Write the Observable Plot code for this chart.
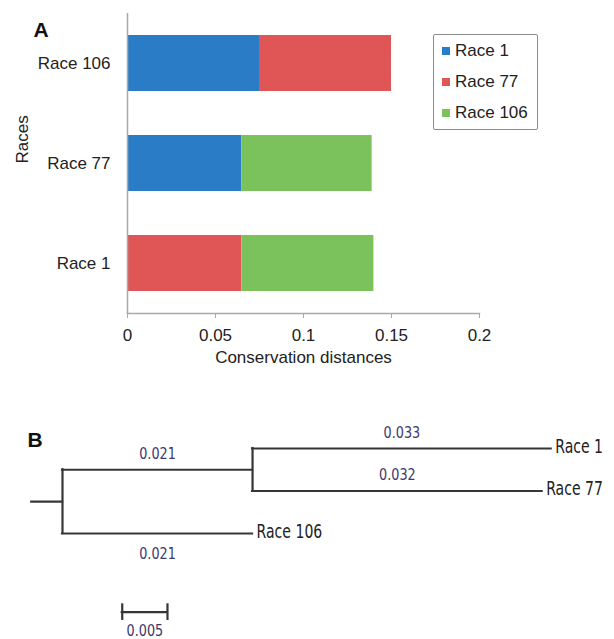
<!DOCTYPE html>
<html><head><meta charset="utf-8">
<script src="https://cdn.jsdelivr.net/npm/d3@7"></script>
<script src="https://cdn.jsdelivr.net/npm/@observablehq/plot@0.6"></script>
<style>
html,body{margin:0;padding:0;background:#fff;}
#fig{position:relative;width:614px;height:639px;overflow:hidden;background:#fff;}
#panelA{position:absolute;left:0;top:0;}
#panelB{position:absolute;left:0;top:380px;}
#legend{position:absolute;left:433px;top:34px;width:105px;height:96px;box-sizing:border-box;border:1.5px solid #8c8c8c;border-radius:2px;background:#fff;}
#legend .lg-swatches{margin:0 !important;padding:0 0 0 8px !important;display:flex !important;flex-direction:column !important;align-items:flex-start !important;min-height:0 !important;font:17px "Liberation Sans", Arial, sans-serif !important;color:#222 !important;}
#legend .lg-swatch{display:flex !important;align-items:center !important;height:31px !important;margin:0 !important;padding:0 !important;}
#legend .lg-swatch svg{margin-right:5px !important;}
</style>
</head><body>
<div id="fig"><div id="panelA"></div><div id="legend"></div><div id="panelB"></div></div>
<script>
// ---------- Panel A data ----------
const races = ["Race 1", "Race 77", "Race 106"];
const raceColors = ["#2b7cc6", "#e05555", "#7cc25c"];
const rowOrder = ["Race 106", "Race 77", "Race 1"];
const barRows = ["Race 106", "Race 106", "Race 77", "Race 77", "Race 1", "Race 1"];
const barSegments = ["Race 1", "Race 77", "Race 1", "Race 106", "Race 77", "Race 106"];
const barDistances = [0.075, 0.075, 0.065, 0.074, 0.065, 0.075];
const xTicks = [0, 0.05, 0.1, 0.15, 0.2];
const xTickLabels = ["0", "0.05", "0.1", "0.15", "0.2"];
const xTitle = "Conservation distances";
const yTitle = "Races";

// ---------- Panel B data ----------
const treeNodes = ["root", "Race 1 + Race 77", "Race 1", "Race 77", "Race 106"];
const treeParents = [null, "root", "Race 1 + Race 77", "Race 1 + Race 77", "root"];
const branchLengths = [0, 0.021, 0.033, 0.032, 0.021];
const branchLabels = ["", "0.021", "0.033", "0.032", "0.021"];
const branchLabelSide = ["", "above", "above", "above", "below"];
const tipOrder = ["Race 1", "Race 77", "Race 106"];
const rootStub = 0.0034;
const scaleBarStart = 0.0066;
const scaleBarLength = 0.005;
const scaleBarLabel = "0.005";
const scaleBarRow = 3.85;

const FONT = '"Liberation Sans", Arial, sans-serif';
const NARROW = '"Liberation Sans Narrow", "Arial Narrow", "DejaVu Sans", sans-serif';
const AXIS_GRAY = "#a9a9a9";
const TREE = "#363636";
const NUM = "#40386a";
const NUM_SIZE = 16, TIP_SIZE = 19;
const condense = {[NUM_SIZE]: 0.8, [TIP_SIZE]: 0.74};

// ---------- Panel A ----------
const bars = barRows.map((r, i) => ({race: r, compared: barSegments[i], distance: barDistances[i]}));

const chartA = Plot.plot({
  width: 614, height: 380,
  marginLeft: 127, marginRight: 135, marginTop: 13, marginBottom: 67,
  style: {fontFamily: FONT, fontSize: "17px", color: "#222", background: "white"},
  x: {domain: [0, 0.2]},
  y: {domain: rowOrder, paddingInner: 0.44, paddingOuter: 0.22},
  color: {domain: races, range: raceColors},
  marks: [
    Plot.barX(bars, Plot.stackX({y: "race", x: "distance", fill: "compared"})),
    Plot.ruleX([0], {stroke: AXIS_GRAY, strokeWidth: 1.5}),
    Plot.frame({anchor: "bottom", stroke: AXIS_GRAY, strokeWidth: 1.5}),
    Plot.axisX({ticks: xTicks, tickFormat: d => xTickLabels[xTicks.indexOf(d)], tickSize: 5, tickPadding: 10, stroke: AXIS_GRAY, label: null}),
    Plot.axisY({tickSize: 0, tickPadding: 17, label: null}),
    Plot.text([xTitle], {frameAnchor: "bottom", dy: 49, fontSize: 17}),
    Plot.text([yTitle], {frameAnchor: "left", dx: -105, rotate: -90, fontSize: 17}),
    Plot.text(["A"], {frameAnchor: "top-left", dx: -94, dy: 9, fontSize: 21, fontWeight: "bold", fill: "#111"})
  ]
});
document.getElementById("panelA").appendChild(chartA);

const legend = Plot.legend({
  color: {domain: races, range: raceColors},
  legend: "swatches", swatchSize: 8, className: "lg"
});
document.getElementById("legend").appendChild(legend);

// ---------- Panel B ----------
const idx = new Map(treeNodes.map((n, i) => [n, i]));
const children = n => treeNodes.filter((_, i) => treeParents[i] === n);
function depth(n) { const i = idx.get(n); const p = treeParents[i]; return p == null ? 0 : depth(p) + branchLengths[i]; }
function yOf(n) { const t = tipOrder.indexOf(n); if (t >= 0) return t; const c = children(n).map(yOf); return (d3.min(c) + d3.max(c)) / 2; }
const nodes = treeNodes.map((n, i) => ({name: n, parent: treeParents[i], x: depth(n), y: yOf(n),
  label: branchLabels[i], side: branchLabelSide[i], tip: tipOrder.includes(n)}));
const byName = new Map(nodes.map(d => [d.name, d]));
const branches = nodes.filter(d => d.parent != null).map(d => {
  const p = byName.get(d.parent);
  return {...d, x1: p.x, x2: d.x, xm: (p.x + d.x) / 2};
});
const verticals = nodes.filter(d => !d.tip).map(d => {
  const c = children(d.name).map(yOf);
  return {x: d.x, y1: d3.min(c), y2: d3.max(c)};
});
const root = nodes.find(d => d.parent == null);
const scaleBar = [{x1: scaleBarStart, x2: scaleBarStart + scaleBarLength, y: scaleBarRow, label: scaleBarLabel}];
const lineOpts = {stroke: TREE, strokeWidth: 2.2, strokeLinecap: "square"};

const chartB = Plot.plot({
  width: 614, height: 259,
  marginLeft: 62, marginRight: 9, marginTop: 68, marginBottom: 106,
  style: {fontFamily: NARROW, fontSize: "16px", color: "#222", background: "white"},
  x: {domain: [0, 0.06], axis: null},
  y: {domain: [0, 2], reverse: true, axis: null},
  marks: [
    Plot.ruleY([root], {y: "y", x1: () => -rootStub, x2: "x", ...lineOpts}),
    Plot.ruleY(branches, {y: "y", x1: "x1", x2: "x2", ...lineOpts}),
    Plot.ruleX(verticals, {x: "x", y1: "y1", y2: "y2", ...lineOpts}),
    Plot.text(branches.filter(d => d.side === "above"), {x: "xm", y: "y", text: "label", dy: -16, fill: NUM, fontSize: NUM_SIZE}),
    Plot.text(branches.filter(d => d.side === "below"), {x: "xm", y: "y", text: "label", dy: 20, fill: NUM, fontSize: NUM_SIZE}),
    Plot.text(nodes.filter(d => d.tip), {x: "x", y: "y", text: "name", textAnchor: "start", dx: 4, dy: -2, fontSize: TIP_SIZE, fill: "#222"}),
    Plot.ruleY(scaleBar, {y: "y", x1: "x1", x2: "x2", ...lineOpts}),
    Plot.ruleX(scaleBar.flatMap(d => [d.x1, d.x2]), {x: d => d, y1: scaleBarRow - 0.17, y2: scaleBarRow + 0.17, ...lineOpts}),
    Plot.text(scaleBar, {x: d => (d.x1 + d.x2) / 2, y: "y", text: "label", dy: 19, fill: NUM, fontSize: NUM_SIZE}),
    Plot.text(["B"], {frameAnchor: "top-left", dx: -35, dy: -16, fontSize: 21, fontWeight: "bold", fill: "#111", fontFamily: FONT})
  ]
});
document.getElementById("panelB").appendChild(chartB);

// narrow lettering (no condensed face installed): squeeze each label horizontally about its anchor
chartB.querySelectorAll("text").forEach(t => {
  const fs = +(t.getAttribute("font-size") || t.parentNode.getAttribute("font-size"));
  const f = condense[fs];
  if (!f) return;
  const tr = t.getAttribute("transform");
  if (tr) {
    t.setAttribute("transform", `${tr} scale(${f},1)`);
  } else {
    const x = +t.getAttribute("x") || 0, y = +t.getAttribute("y") || 0;
    t.setAttribute("transform", `translate(${x},${y}) scale(${f},1) translate(${-x},${-y})`);
  }
});
</script>
</body></html>
